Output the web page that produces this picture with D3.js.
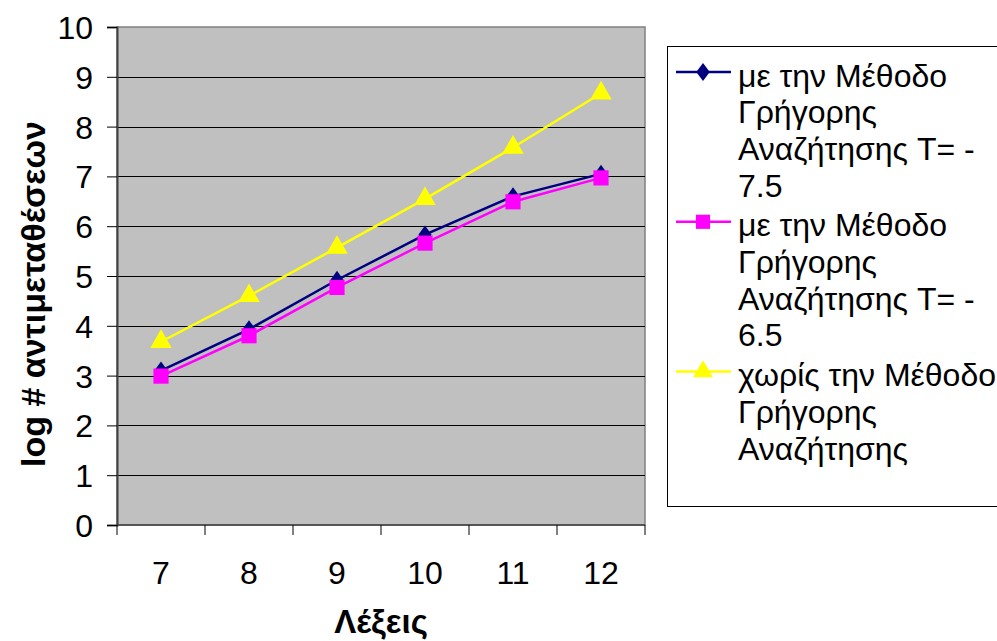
<!DOCTYPE html>
<html>
<head>
<meta charset="utf-8">
<script src="https://cdn.jsdelivr.net/npm/d3@7"></script>
<style>
  body { margin: 0; background: #fff; }
  svg text { font-family: "Liberation Sans", Arial, sans-serif; fill: #000; }
</style>
</head>
<body>
<div id="chart"></div>
<script>
// data
const words = ["7", "8", "9", "10", "11", "12"];
const fast75 = [3.1, 3.93, 4.92, 5.83, 6.6, 7.05];
const fast65 = [2.99, 3.8, 4.77, 5.66, 6.49, 6.97];
const noFast = [3.68, 4.6, 5.57, 6.55, 7.58, 8.67];
const yTicks = [0, 1, 2, 3, 4, 5, 6, 7, 8, 9, 10];

const seriesNames = [
  ["με την Μέθοδο", "Γρήγορης", "Αναζήτησης T= -", "7.5"],
  ["με την Μέθοδο", "Γρήγορης", "Αναζήτησης T= -", "6.5"],
  ["χωρίς την Μέθοδο", "Γρήγορης", "Αναζήτησης"]
];
const colors = ["#000080", "#FF00FF", "#FFFF00"];
const shapes = [d3.symbolDiamond, d3.symbolSquare, d3.symbolTriangle];

const WIDTH = 997, HEIGHT = 641;
const PLOT = { left: 117, top: 27, right: 645, bottom: 525 };
const FONT = "32px";

const svg = d3.select("#chart").append("svg")
  .attr("width", WIDTH).attr("height", HEIGHT);

const x = d3.scaleBand().domain(words).range([PLOT.left, PLOT.right]);
const y = d3.scaleLinear().domain([0, 10]).range([PLOT.bottom, PLOT.top]);

// plot background
svg.append("rect")
  .attr("x", PLOT.left).attr("y", PLOT.top)
  .attr("width", PLOT.right - PLOT.left).attr("height", PLOT.bottom - PLOT.top)
  .attr("fill", "#C0C0C0").attr("stroke", "#808080").attr("stroke-width", 1.5);

// gridlines
svg.append("g").selectAll("line")
  .data(yTicks.filter(d => d > 0 && d < 10))
  .join("line")
  .attr("x1", PLOT.left).attr("x2", PLOT.right)
  .attr("y1", d => Math.round(y(d)) + 0.5).attr("y2", d => Math.round(y(d)) + 0.5)
  .attr("stroke", "#000").attr("stroke-width", 1);

// y axis
const yAxis = svg.append("g")
  .attr("transform", `translate(${PLOT.left},0)`)
  .call(d3.axisLeft(y).tickValues(yTicks).tickSize(10).tickPadding(14).tickFormat(d3.format("d")));
yAxis.selectAll("text").style("font-size", FONT).attr("dy", "0.36em");
yAxis.select(".domain").attr("stroke", "#404040").attr("stroke-width", 2);

// x axis (ticks between categories)
const xAxis = svg.append("g").attr("transform", `translate(0,${PLOT.bottom})`);
xAxis.append("line")
  .attr("x1", PLOT.left).attr("x2", PLOT.right)
  .attr("stroke", "#404040").attr("stroke-width", 1.5);
const bounds = words.map(w => x(w)).concat([PLOT.right]);
xAxis.selectAll(".tk").data(bounds).join("line").attr("class", "tk")
  .attr("x1", d => d).attr("x2", d => d).attr("y1", 0).attr("y2", 10)
  .attr("stroke", "#000");
xAxis.selectAll(".lbl").data(words).join("text").attr("class", "lbl")
  .attr("x", d => x(d) + x.bandwidth() / 2).attr("y", 59)
  .attr("text-anchor", "middle").style("font-size", FONT).text(d => d);

// axis titles
svg.append("text")
  .attr("x", 381).attr("y", 633)
  .attr("text-anchor", "middle").style("font-size", "33px").style("font-weight", "bold")
  .text("Λέξεις");
svg.append("text")
  .attr("transform", `translate(45,294) rotate(-90)`)
  .attr("text-anchor", "middle").style("font-size", "34px").style("font-weight", "bold")
  .text("log # αντιμεταθέσεων");

// lines + markers
const allSeries = [fast75, fast65, noFast];
const line = d3.line()
  .x((d, i) => x(words[i]) + x.bandwidth() / 2)
  .y(d => y(d));

[2, 0, 1].forEach(s => {
  const g = svg.append("g");
  g.append("path").datum(allSeries[s])
    .attr("d", line).attr("fill", "none")
    .attr("stroke", colors[s]).attr("stroke-width", 2.5);
  g.selectAll("path.m").data(allSeries[s]).join("path").attr("class", "m")
    .attr("transform", (d, i) => `translate(${x(words[i]) + x.bandwidth() / 2},${y(d)})` + (s === 0 ? " scale(1,0.8)" : ""))
    .attr("d", d3.symbol().type(shapes[s]).size(s === 1 ? 230 : s === 0 ? 150 : 200))
    .attr("fill", colors[s]);
});

// legend
const legend = svg.append("g");
legend.append("rect")
  .attr("x", 667.5).attr("y", 46.5).attr("width", 340).attr("height", 460)
  .attr("fill", "#fff").attr("stroke", "#000").attr("stroke-width", 1);
const lineH = 36.7;
let rowY = 75;
seriesNames.forEach((lines, s) => {
  const g = legend.append("g");
  g.append("line").attr("x1", 676).attr("x2", 731).attr("y1", rowY - 3).attr("y2", rowY - 3)
    .attr("stroke", colors[s]).attr("stroke-width", 2.5);
  g.append("path").attr("transform", `translate(703,${rowY - 3})` + (s === 0 ? " scale(1.1,0.85)" : ""))
    .attr("d", d3.symbol().type(shapes[s]).size(s === 1 ? 200 : s === 0 ? 130 : 170))
    .attr("fill", colors[s]);
  lines.forEach((t, k) => {
    g.append("text").attr("x", 738).attr("y", rowY + k * lineH)
      .attr("dy", "0.36em").style("font-size", FONT).text(t);
  });
  rowY += lines.length * lineH + 3;
});
</script>
</body>
</html>
